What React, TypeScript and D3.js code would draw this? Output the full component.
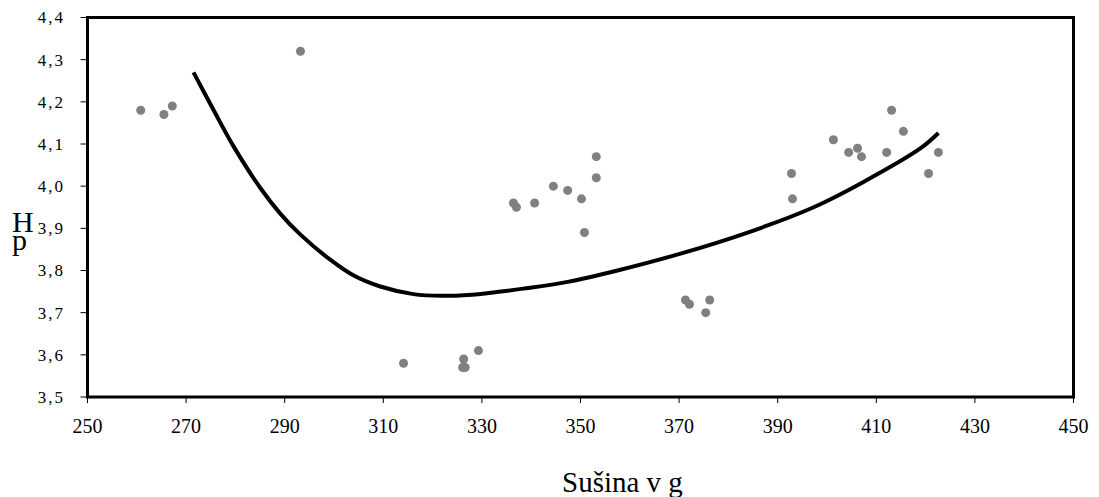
import React from 'react';
import * as d3 from 'd3';

// measured samples (dry matter in g vs pH)
const sampleX = [260.8, 265.5, 267.2, 293.2, 314.1, 326.1, 326.6, 326.3, 329.3, 336.4, 337.0, 340.7, 344.5, 347.4, 350.2, 350.8, 353.2, 353.2, 371.3, 372.1, 376.2, 375.4, 392.8, 393.0, 401.3, 404.4, 406.2, 407.0, 412.1, 413.1, 415.5, 420.6, 422.6];
const sampleY = [4.18, 4.17, 4.19, 4.32, 3.58, 3.57, 3.57, 3.59, 3.61, 3.96, 3.95, 3.96, 4.0, 3.99, 3.97, 3.89, 4.07, 4.02, 3.73, 3.72, 3.73, 3.7, 4.03, 3.97, 4.11, 4.08, 4.09, 4.07, 4.08, 4.18, 4.13, 4.03, 4.08];

// trend line
const trendX = [271.5, 275.6, 279.6, 285.1, 289.1, 293.2, 299.3, 304.0, 309.4, 316.1, 322.0, 327.1, 333.0, 338.4, 347.4, 357.5, 370.3, 383.9, 397.3, 407.4, 419.0, 422.6];
const trendY = [4.27, 4.18, 4.095, 3.995, 3.935, 3.885, 3.825, 3.788, 3.762, 3.744, 3.74, 3.742, 3.749, 3.757, 3.773, 3.8, 3.84, 3.89, 3.95, 4.01, 4.09, 4.126];

const xTicks = [250, 270, 290, 310, 330, 350, 370, 390, 410, 430, 450];
const yTicks = [3.5, 3.6, 3.7, 3.8, 3.9, 4.0, 4.1, 4.2, 4.3, 4.4];

const W = 1099;
const H = 497;
const left = 87.5, right = 1073.5, top = 17.5, bottom = 397;
const font = '"Liberation Serif", "Times New Roman", serif';

const App = () => {
  const x = d3.scaleLinear().domain([250, 450]).range([left, right]);
  const y = d3.scaleLinear().domain([3.5, 4.4]).range([bottom, top]);

  const trend = d3.line<number>()
    .x((d, i) => x(trendX[i]))
    .y((d) => y(d))
    .curve(d3.curveCatmullRom);

  const fmt = (v: number) => d3.format('.1f')(v).replace('.', ',');

  return (
    <svg width={W} height={H} style={{ position: 'absolute', left: 0, top: 0, background: '#fff' }}>
      {/* y ticks + labels */}
      {yTicks.map((t) => (
        <g key={'y' + t}>
          <line x1={left - 7} x2={left} y1={y(t)} y2={y(t)} stroke="#000" strokeWidth={1} />
          <text x={65} y={y(t)} dy="0.35em" textAnchor="end" fontFamily={font} fontSize={17} letterSpacing={2} fill="#000">
            {fmt(t)}
          </text>
        </g>
      ))}
      {/* x ticks + labels */}
      {xTicks.map((t) => (
        <g key={'x' + t}>
          <line x1={x(t)} x2={x(t)} y1={bottom} y2={bottom + 6} stroke="#000" strokeWidth={1} />
          <text x={x(t)} y={433} textAnchor="middle" fontFamily={font} fontSize={20} fill="#000">
            {t}
          </text>
        </g>
      ))}

      {/* points */}
      {sampleX.map((v, i) => (
        <circle key={'p' + i} cx={x(v)} cy={y(sampleY[i])} r={4.5} fill="#808080" />
      ))}

      {/* trend */}
      <path d={trend(trendY) || ''} fill="none" stroke="#000" strokeWidth={4} />

      {/* frame */}
      <rect x={left} y={top} width={right - left} height={bottom - top} fill="none" stroke="#000" strokeWidth={3} />

      {/* axis titles */}
      <text x={12} y={232} fontFamily={font} fontSize={30} fill="#000">H</text>
      <text x={12} y={250} fontFamily={font} fontSize={30} fill="#000">p</text>
      <text x={562} y={492} fontFamily={font} fontSize={29} fill="#000">Sušina v g</text>
    </svg>
  );
};

export default App;
